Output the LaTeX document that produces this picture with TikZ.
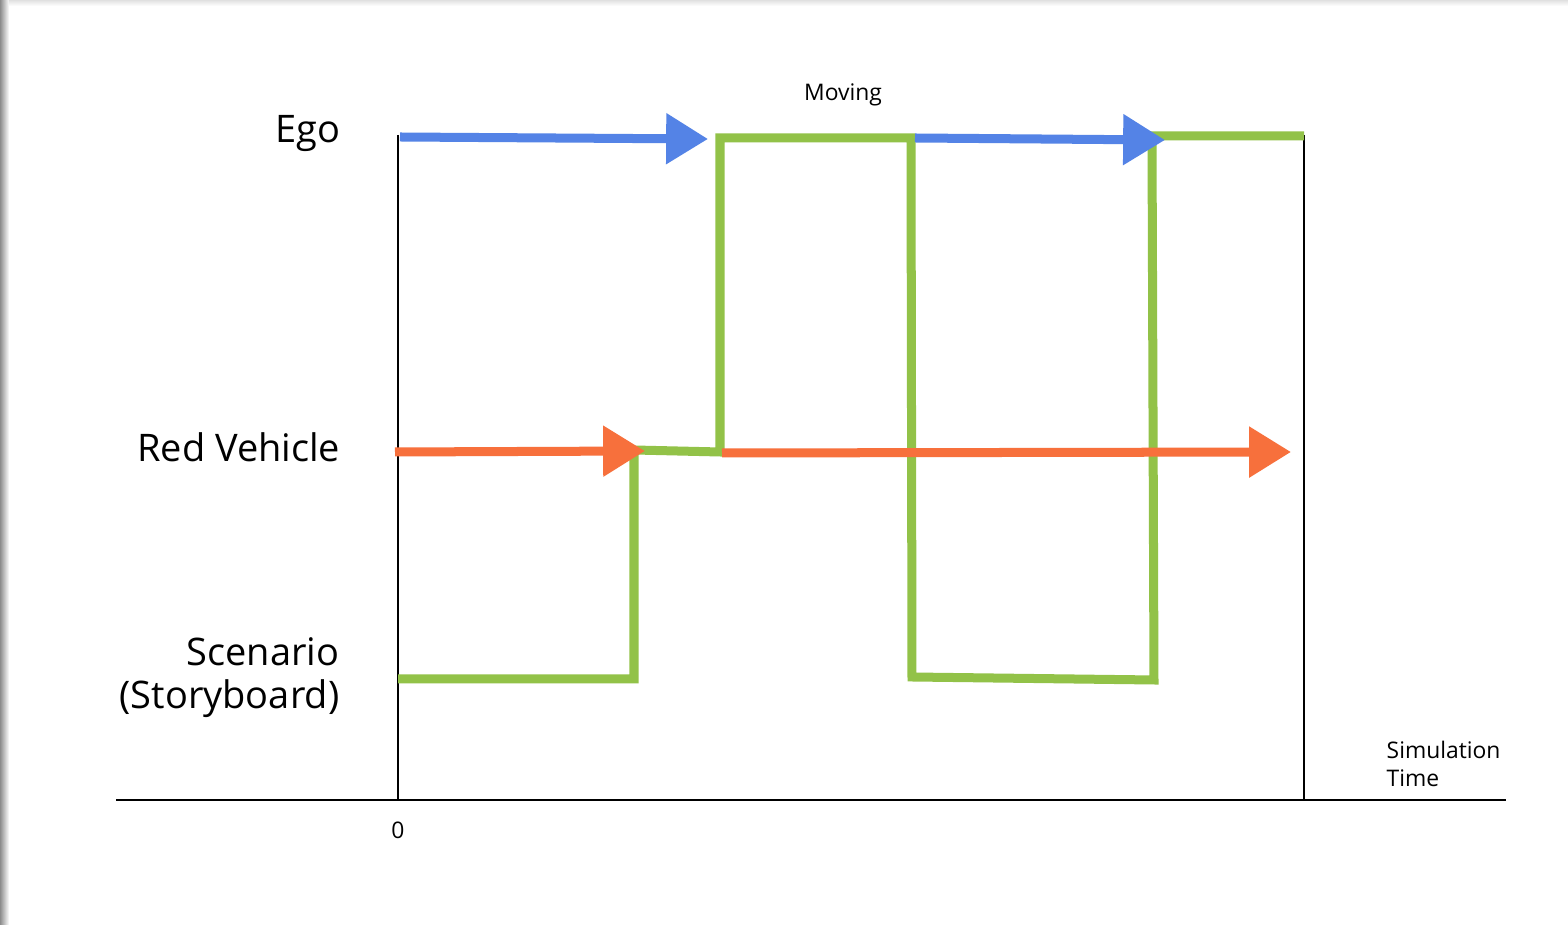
\documentclass[tikz,border=0pt]{standalone}
\usepackage{fontspec}
\setmainfont{Open Sans}
\usetikzlibrary{arrows.meta}

\definecolor{egoblue}{RGB}{84,131,230}
\definecolor{vehorange}{RGB}{247,112,60}
\definecolor{storygreen}{RGB}{146,194,72}

\begin{document}
\begin{tikzpicture}[
  x=0.01cm, y=-0.01cm,
  px/.style={line width=#1*0.2845pt},
  bigarrow/.style={px=9, -{Triangle[length=11.9pt,width=13.9pt]}},
  rowlabel/.style={inner sep=0pt, font=\fontsize{10.8pt}{12.5pt}\selectfont, align=right},
  smalllabel/.style={inner sep=0pt, font=\fontsize{6.5pt}{8pt}\selectfont},
  state/.style={draw=storygreen, px=9, line join=miter}
]
\useasboundingbox (0,0) rectangle (1568,925);
\fill[white] (0,0) rectangle (1568,925);
% soft page shadow
\shade[left color=black!45, right color=white] (0,0) rectangle (9,925);
\shade[top color=black!12, bottom color=white] (9,0) rectangle (1568,6);

% axes
\coordinate (axL) at (116,800);
\coordinate (axR) at (1506,800);
\coordinate (t0top) at (398,135);
\coordinate (t0bot) at (398,800);
\coordinate (tEtop) at (1304,135);
\coordinate (tEbot) at (1304,800);
\draw[black, px=2.2] (axL) -- (axR);
\draw[black, px=1.6] (t0top) -- (t0bot);
\draw[black, px=2.4] (tEtop) -- (tEbot);

% row labels (base anchor sits on the last line)
\node[rowlabel, anchor=base east] (ego) at (341,143) {Ego};
\node[rowlabel, anchor=base east] (red) at (341,462) {Red Vehicle};
\node[rowlabel, anchor=base east] (scen) at (340,709) {Scenario\\(Storyboard)};
\node[smalllabel, anchor=base] (moving) at (843,101) {Moving};
\node[smalllabel, anchor=base west, align=left] (simtime) at (1386,787) {Simulation\\Time};
\node[smalllabel, anchor=base] (zero) at (398,839) {0};

% storyboard state trace
\coordinate (g0) at (398,679);
\coordinate (g1) at (634,679);
\coordinate (g2) at (634,450);
\coordinate (g3) at (720,452);
\coordinate (g4) at (720,138);
\coordinate (g5) at (911,138);
\coordinate (g6) at (912,677);
\coordinate (g7) at (1154,680);
\coordinate (g8) at (1152,136);
\coordinate (g9) at (1304,136);
\draw[state] (g0) -- (g1) -- (g2) -- (g3) -- (g4) -- (g5) -- (g6) -- (g7) -- (g8) -- (g9);

% ego motion
\coordinate (b1s) at (400,137);
\coordinate (b1e) at (708,139);
\coordinate (b2s) at (915,138);
\coordinate (b2e) at (1165,140);
\draw[bigarrow, egoblue] (b1s) -- (b1e);
\draw[bigarrow, egoblue] (b2s) -- (b2e);

% red vehicle motion
\coordinate (o1s) at (395,452);
\coordinate (o1e) at (645,451);
\coordinate (o2s) at (722,453);
\coordinate (o2e) at (1291,452);
\draw[bigarrow, vehorange] (o1s) -- (o1e);
\draw[bigarrow, vehorange] (o2s) -- (o2e);
\end{tikzpicture}
\end{document}
